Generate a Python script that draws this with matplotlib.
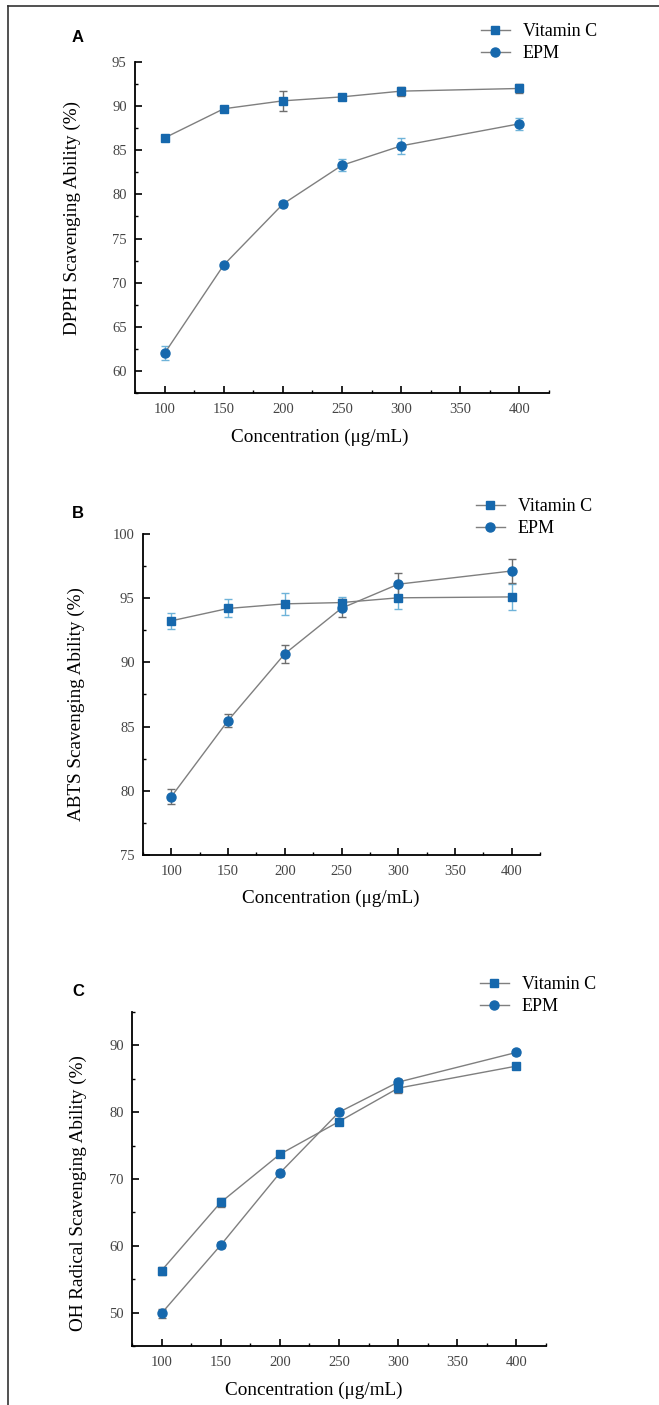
import matplotlib
matplotlib.use("Agg")
import matplotlib.pyplot as plt
from matplotlib.ticker import MultipleLocator
from matplotlib.lines import Line2D

plt.rcParams['font.family'] = ['Liberation Serif', 'DejaVu Serif']

conc = [100, 150, 200, 250, 300, 400]
x_ticks = [100, 150, 200, 250, 300, 350, 400]

# Panel A: DPPH
dpph_vc = [86.4, 89.7, 90.6, 91.05, 91.7, 92.0]
dpph_vc_err = [0.2, 0.2, 1.1, 0.25, 0.5, 0.5]
dpph_epm = [62.0, 72.0, 78.9, 83.3, 85.5, 88.0]
dpph_epm_err = [0.8, 0.2, 0.3, 0.7, 0.9, 0.7]

# Panel B: ABTS
abts_vc = [93.24, 94.2, 94.56, 94.66, 95.03, 95.1]
abts_vc_err = [0.6, 0.7, 0.85, 0.4, 0.9, 1.0]
abts_epm = [79.55, 85.47, 90.67, 94.22, 96.09, 97.12]
abts_epm_err = [0.6, 0.5, 0.7, 0.7, 0.85, 0.95]

# Panel C: OH radical
oh_vc = [56.3, 66.5, 73.7, 78.6, 83.6, 86.9]
oh_vc_err = [0.6, 0.7, 0.4, 0.4, 0.7, 0.4]
oh_epm = [49.9, 60.1, 70.9, 80.0, 84.5, 88.95]
oh_epm_err = [0.7, 0.5, 0.5, 0.4, 0.4, 0.4]

labels = ["Vitamin C", "EPM"]

BLUE = '#1668ad'
LINE = '#7f7f7f'
ERR_GREY = '#6e6e6e'
ERR_BLUE = '#6fb3d9'

W, H = 659, 1405
fig = plt.figure(figsize=(W / 100, H / 100), dpi=100)

def frac(l, r, t, b):
    return [l / W, 1 - b / H, (r - l) / W, (b - t) / H]

panels = [
    dict(rect=frac(135, 549, 62, 393), ylim=(57.5, 95), ymaj=5, ymin=2.5,
         vc=dpph_vc, vce=dpph_vc_err, ep=dpph_epm, epe=dpph_epm_err,
         vcc=ERR_GREY, epc=ERR_BLUE,
         ylabel="DPPH Scavenging Ability (%)", letter="A", letter_xy=(78, 38),
         xl=(0.447, -0.133), yl=(-0.152, 0.529), leg=(481, 23)),
    dict(rect=frac(143, 540, 534, 855), ylim=(75, 100), ymaj=5, ymin=2.5,
         vc=abts_vc, vce=abts_vc_err, ep=abts_epm, epe=abts_epm_err,
         vcc=ERR_BLUE, epc=ERR_GREY,
         ylabel="ABTS Scavenging Ability (%)", letter="B", letter_xy=(78, 514),
         xl=(0.473, -0.134), yl=(-0.169, 0.470), leg=(476, 498)),
    dict(rect=frac(132, 546, 1012, 1346), ylim=(45, 95), ymaj=10, ymin=5,
         vc=oh_vc, vce=oh_vc_err, ep=oh_epm, epe=oh_epm_err,
         vcc=ERR_GREY, epc=ERR_GREY,
         ylabel="OH Radical Scavenging Ability (%)", letter="C", letter_xy=(78, 992),
         xl=(0.44, -0.132), yl=(-0.130, 0.458), leg=(480, 976)),
]

for p in panels:
    ax = fig.add_axes(p['rect'])
    ax.errorbar(conc, p['vc'], yerr=p['vce'], fmt='none', ecolor=p['vcc'],
                elinewidth=1, capsize=3, capthick=1, zorder=2)
    ax.errorbar(conc, p['ep'], yerr=p['epe'], fmt='none', ecolor=p['epc'],
                elinewidth=1, capsize=3, capthick=1, zorder=2)
    ax.plot(conc, p['vc'], color=LINE, lw=1.0, zorder=3)
    ax.plot(conc, p['ep'], color=LINE, lw=1.0, zorder=3)
    ax.plot(conc, p['vc'], ls='none', marker='s', ms=5.5, color=BLUE, zorder=4)
    ax.plot(conc, p['ep'], ls='none', marker='o', ms=6.5, color=BLUE, zorder=4)

    ax.set_xlim(75, 425)
    ax.set_ylim(*p['ylim'])
    ax.set_xticks(x_ticks)
    ax.xaxis.set_minor_locator(MultipleLocator(25))
    ax.yaxis.set_major_locator(MultipleLocator(p['ymaj']))
    ax.yaxis.set_minor_locator(MultipleLocator(p['ymin']))
    for s in ['top', 'right']:
        ax.spines[s].set_visible(False)
    for s in ['left', 'bottom']:
        ax.spines[s].set_linewidth(1.3)
    ax.tick_params(which='major', direction='in', length=5, width=1.2,
                   labelsize=10.5, labelcolor='#444444')
    ax.tick_params(which='minor', direction='in', length=2.5, width=1.0)
    ax.tick_params(axis='x', which='major', pad=7)
    ax.tick_params(axis='y', which='major', pad=6)

    ax.set_xlabel("Concentration (μg/mL)", fontsize=13.8, va='center')
    ax.xaxis.set_label_coords(*p['xl'])
    ax.set_ylabel(p['ylabel'], fontsize=13.8, va='center')
    ax.yaxis.set_label_coords(*p['yl'])

    handles = [Line2D([], [], color=LINE, lw=1.0, marker='s', ms=5.5,
                      markerfacecolor=BLUE, markeredgecolor=BLUE),
               Line2D([], [], color=LINE, lw=1.0, marker='o', ms=6.5,
                      markerfacecolor=BLUE, markeredgecolor=BLUE)]
    lx, ly = p['leg']
    ax.legend(handles, labels, loc='upper left', bbox_to_anchor=(lx / W, 1 - ly / H),
              bbox_transform=fig.transFigure, frameon=False, fontsize=13,
              borderpad=0, borderaxespad=0, handlelength=1.6, handletextpad=0.7,
              labelspacing=0.3)

    fx, fy = p['letter_xy']
    fig.text(fx / W, 1 - fy / H, p['letter'], fontsize=12, fontweight='bold',
             family=['Liberation Sans', 'DejaVu Sans'], ha='center', va='center')

# outer frame (top and left edges)
fig.add_artist(Line2D([8 / W, 1], [1 - 6 / H, 1 - 6 / H], color='#333333', lw=1.2,
                      transform=fig.transFigure))
fig.add_artist(Line2D([8 / W, 8 / W], [0, 1 - 6 / H], color='#333333', lw=1.2,
                      transform=fig.transFigure))

fig.savefig("out.png", dpi=100)
